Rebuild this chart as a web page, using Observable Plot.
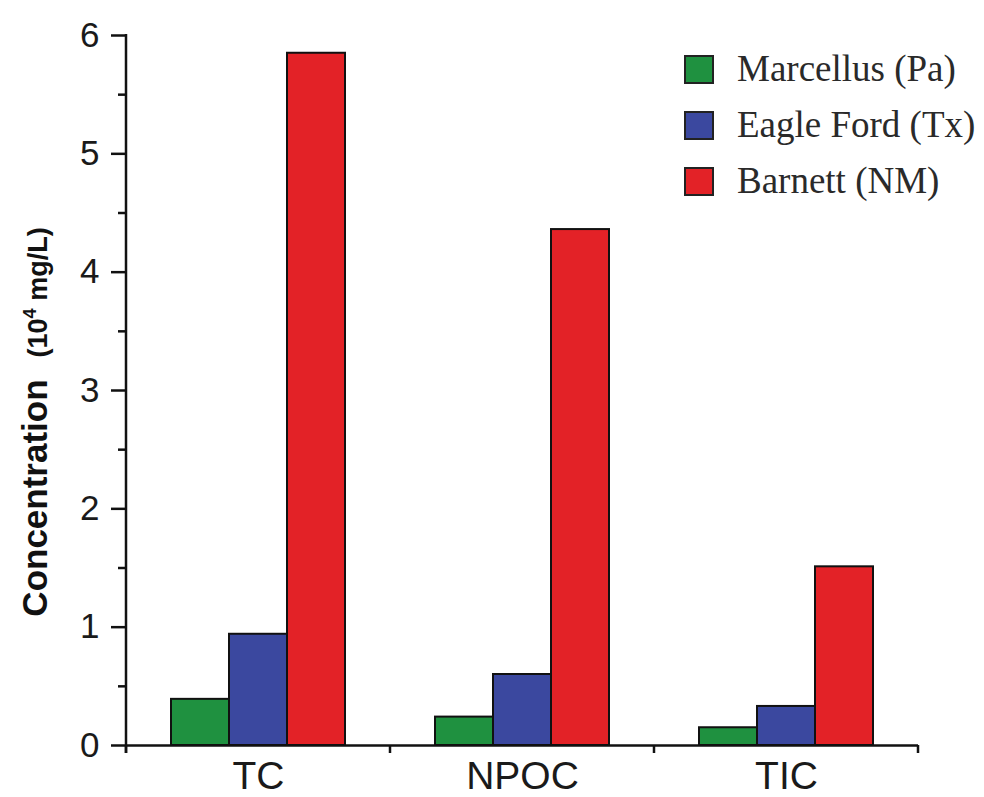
<!DOCTYPE html>
<html>
<head>
<meta charset="utf-8">
<script src="https://cdn.jsdelivr.net/npm/d3@7"></script>
<script src="https://cdn.jsdelivr.net/npm/@observablehq/plot@0.6"></script>
<style>
  html, body { margin: 0; padding: 0; background: #ffffff; }
  #chart { width: 984px; height: 797px; }
</style>
</head>
<body>
<div id="chart"></div>
<script>
const categories = ["TC", "NPOC", "TIC"];
const series = ["Marcellus (Pa)", "Eagle Ford (Tx)", "Barnett (NM)"];
const marcellus = [0.39, 0.24, 0.15];
const eagleFord = [0.94, 0.60, 0.33];
const barnett = [5.85, 4.36, 1.51];
const colors = ["#1f9140", "#3b489f", "#e32227"];
const yTicks = [0, 1, 2, 3, 4, 5, 6];
const yMinorTicks = [0.5, 1.5, 2.5, 3.5, 4.5, 5.5];
const yLabelMain = "Concentration";
const yLabelUnitPre = "(10";
const yLabelUnitSup = "4";
const yLabelUnitPost = " mg/L)";

const seriesValues = [marcellus, eagleFord, barnett];
const data = categories.flatMap((c, i) =>
  series.map((s, j) => ({category: c, series: s, value: seriesValues[j][i]}))
);

const chart = Plot.plot({
  width: 984,
  height: 797,
  marginLeft: 125,
  marginRight: 66,
  marginTop: 35,
  marginBottom: 52,
  style: {background: "white", fontFamily: "'Liberation Sans', Arial, sans-serif", color: "#1a1a1a"},
  fx: {domain: categories, padding: 0, label: null},
  x: {domain: series, paddingInner: 0, paddingOuter: 0.74, axis: null},
  y: {domain: [0, 6], label: null},
  color: {domain: series, range: colors},
  marks: [
    Plot.barY(data, {fx: "category", x: "series", y: "value", fill: "series", stroke: "#111", strokeWidth: 2}),
    Plot.ruleY([0], {stroke: "#111", strokeWidth: 2.5}),
    Plot.axisY({ticks: yTicks, tickFormat: d => String(d), tickSize: 15, tickPadding: 12, fontSize: 35, stroke: "#111", strokeWidth: 2.5, label: null, anchor: "left"}),
    Plot.axisY({ticks: yMinorTicks, tickSize: 8, text: null, stroke: "#111", strokeWidth: 2.5, label: null, anchor: "left"}),
    Plot.axisFx({tickSize: 0, tickPadding: 16, fontSize: 39, label: null, anchor: "bottom"})
  ]
});

document.getElementById("chart").appendChild(chart);

const svg = d3.select(chart);
const y = chart.scale("y");
const fx = chart.scale("fx");
const y0 = y.apply(0);
const xLeft = fx.apply(categories[0]);

// y axis line
svg.append("line")
  .attr("x1", xLeft).attr("x2", xLeft)
  .attr("y1", y.apply(6) - 1).attr("y2", y0 + 8)
  .attr("stroke", "#111").attr("stroke-width", 2.5);

// x boundary ticks
const bounds = categories.map(c => fx.apply(c)).concat([fx.apply(categories[categories.length - 1]) + fx.bandwidth]);
svg.append("g").selectAll("line").data(bounds).join("line")
  .attr("x1", d => d).attr("x2", d => d)
  .attr("y1", y0).attr("y2", y0 + 8)
  .attr("stroke", "#111").attr("stroke-width", 2.5);

// legend
const color = chart.scale("color");
const lg = svg.append("g").attr("transform", "translate(685,56)");
series.forEach((s, i) => {
  const g = lg.append("g").attr("transform", `translate(0,${i * 56})`);
  g.append("rect").attr("width", 28).attr("height", 27)
    .attr("fill", color.apply(s)).attr("stroke", "#222").attr("stroke-width", 2);
  g.append("text").attr("x", 52).attr("y", 25)
    .attr("text-anchor", "start")
    .attr("font-family", "'Liberation Serif', 'Times New Roman', serif")
    .attr("font-size", 37).attr("fill", "#2a2a2a").text(s);
});

// y label
const t = svg.append("text")
  .attr("transform", "translate(47,422) rotate(-90)")
  .attr("text-anchor", "middle")
  .attr("font-family", "'Liberation Sans', Arial, sans-serif")
  .attr("font-weight", "bold")
  .attr("fill", "#111");
t.append("tspan").attr("font-size", 35).text(yLabelMain);
t.append("tspan").attr("font-size", 27).attr("dx", 22).text(yLabelUnitPre);
t.append("tspan").attr("font-size", 18).attr("dy", -11).text(yLabelUnitSup);
t.append("tspan").attr("font-size", 27).attr("dy", 11).text(yLabelUnitPost);
</script>
</body>
</html>
